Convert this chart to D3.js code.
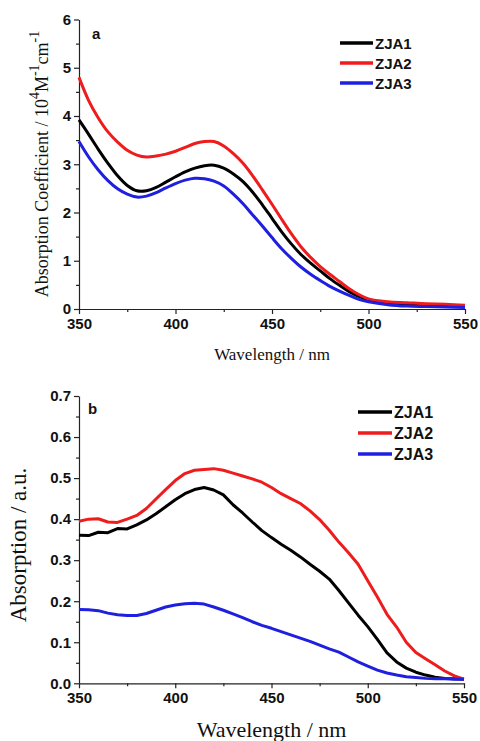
<!DOCTYPE html>
<html><head><meta charset="utf-8">
<script src="https://cdn.jsdelivr.net/npm/d3@7"></script>
<style>body{margin:0;background:#fff}svg{display:block}</style>
</head><body>
<svg id="chart" width="480" height="741"></svg>
<script>
// ---- Panel a data ----
const wavelengthsA = [350,355,360,365,370,375,380,385,390,395,400,405,410,415,420,425,430,435,440,445,450,455,460,465,470,475,480,485,490,495,500,510,520,530,540,550];
const zja1A = [3.92,3.62,3.31,3.02,2.76,2.56,2.45,2.45,2.52,2.63,2.74,2.84,2.92,2.97,2.98,2.92,2.80,2.64,2.42,2.16,1.88,1.60,1.35,1.13,0.95,0.79,0.63,0.49,0.36,0.26,0.19,0.12,0.09,0.08,0.07,0.06];
const zja2A = [4.80,4.32,3.96,3.67,3.46,3.29,3.19,3.15,3.17,3.21,3.27,3.35,3.43,3.47,3.47,3.38,3.22,3.02,2.76,2.47,2.17,1.86,1.56,1.29,1.07,0.88,0.72,0.57,0.42,0.30,0.21,0.15,0.13,0.11,0.10,0.08];
const zja3A = [3.47,3.15,2.88,2.66,2.49,2.38,2.32,2.34,2.41,2.51,2.60,2.67,2.71,2.70,2.65,2.55,2.38,2.18,1.95,1.72,1.48,1.25,1.05,0.87,0.72,0.59,0.47,0.37,0.28,0.20,0.15,0.09,0.06,0.05,0.04,0.03];
// ---- Panel b data ----
const wavelengthsB = [350,355,360,365,370,375,380,385,390,395,400,405,410,415,420,425,430,435,440,445,450,455,460,465,470,475,480,485,490,495,500,505,510,515,520,525,530,535,540,545,550];
const zja1B = [0.361,0.360,0.368,0.367,0.377,0.376,0.386,0.398,0.413,0.430,0.447,0.462,0.472,0.477,0.471,0.459,0.435,0.415,0.393,0.372,0.355,0.339,0.324,0.308,0.290,0.273,0.254,0.226,0.196,0.166,0.138,0.107,0.074,0.052,0.037,0.027,0.020,0.015,0.012,0.011,0.010];
const zja2B = [0.395,0.400,0.401,0.393,0.392,0.400,0.409,0.426,0.449,0.472,0.494,0.511,0.519,0.521,0.523,0.519,0.512,0.505,0.498,0.490,0.477,0.462,0.450,0.438,0.420,0.399,0.373,0.344,0.318,0.290,0.250,0.210,0.168,0.137,0.100,0.075,0.060,0.045,0.030,0.018,0.010];
const zja3B = [0.180,0.179,0.177,0.171,0.167,0.165,0.165,0.170,0.178,0.186,0.191,0.194,0.195,0.193,0.186,0.178,0.169,0.160,0.150,0.141,0.134,0.126,0.118,0.110,0.102,0.093,0.084,0.076,0.064,0.052,0.042,0.032,0.025,0.020,0.016,0.014,0.012,0.011,0.011,0.010,0.010];

const seriesNames = ["ZJA1","ZJA2","ZJA3"];
const seriesColors = ["#000000","#ee1c1c","#1f1fe0"];
const xTicks = [350,400,450,500,550];
const yTicksA = [0,1,2,3,4,5,6];
const yTicksB = [0,0.1,0.2,0.3,0.4,0.5,0.6,0.7];

const svg = d3.select("#chart");
const tickFont = "'Liberation Sans', Arial, sans-serif";
const titleFont = "'Liberation Serif', 'Times New Roman', serif";

function panel(opts){
  const g = svg.append("g");
  const x = d3.scaleLinear().domain([350,550]).range([opts.left, opts.right]);
  const y = d3.scaleLinear().domain(opts.yDomain).range([opts.bottom, opts.top]);

  const minorX = d3.range(375, 550, 50);
  g.append("g").attr("transform",`translate(0,${opts.bottom})`)
    .call(d3.axisBottom(x).tickValues(minorX).tickSize(3).tickFormat("").tickSizeOuter(0))
    .call(s=>s.select(".domain").remove());
  g.append("g").attr("transform",`translate(${opts.left},0)`)
    .call(d3.axisLeft(y).tickValues(opts.minorY).tickSize(3).tickFormat("").tickSizeOuter(0))
    .call(s=>s.select(".domain").remove());

  const xa = g.append("g").attr("transform",`translate(0,${opts.bottom})`)
    .call(d3.axisBottom(x).tickValues(xTicks).tickSize(5).tickPadding(4).tickSizeOuter(0));
  xa.selectAll("text").attr("font-family",tickFont).attr("font-weight","bold").attr("font-size",opts.tickSize).attr("fill","#111");
  const ya = g.append("g").attr("transform",`translate(${opts.left},0)`)
    .call(d3.axisLeft(y).tickValues(opts.yTicks).tickSize(5).tickPadding(3).tickFormat(opts.yFmt).tickSizeOuter(0));
  ya.selectAll("text").attr("font-family",tickFont).attr("font-weight","bold").attr("font-size",opts.tickSize).attr("fill","#111");
  g.selectAll(".domain, .tick line").attr("stroke","#222").attr("stroke-width",1.2);

  const line = d3.line().x(d=>x(d[0])).y(d=>y(d[1])).curve(opts.curve);
  opts.series.forEach((vals,i)=>{
    g.append("path").datum(opts.xs.map((w,j)=>[w,vals[j]]))
      .attr("d",line).attr("fill","none").attr("stroke",seriesColors[i])
      .attr("stroke-width",opts.lw).attr("stroke-linejoin","round");
  });

  seriesNames.forEach((n,i)=>{
    const ly = opts.legY + i*opts.legDy;
    g.append("line").attr("x1",opts.legX).attr("x2",opts.legX+opts.legLen)
      .attr("y1",ly).attr("y2",ly).attr("stroke",seriesColors[i]).attr("stroke-width",3.5);
    g.append("text").attr("x",opts.legX+opts.legLen+2).attr("y",ly+5.5)
      .attr("font-family",tickFont).attr("font-weight","bold").attr("font-size",opts.legSize)
      .attr("fill","#111").text(n);
  });
  g.append("text").attr("x",opts.letterX).attr("y",opts.letterY)
    .attr("font-family",tickFont).attr("font-weight","bold").attr("font-size",15).attr("fill","#111").text(opts.letter);
  g.append("text").attr("x",(opts.left+opts.right)/2).attr("y",opts.xTitleY).attr("text-anchor","middle")
    .attr("font-family",titleFont).attr("font-size",opts.xTitleSize).attr("fill","#111").text("Wavelength / nm");
  return {g,x,y};
}

// Panel a
panel({left:79,right:465,top:19.5,bottom:309,yDomain:[0,6],yTicks:yTicksA,
  minorY:d3.range(0.5,6,1),yFmt:d3.format("d"),tickSize:15,curve:d3.curveCatmullRom.alpha(0.5),lw:3,
  xs:wavelengthsA,series:[zja1A,zja2A,zja3A],legX:340,legY:43,legDy:20,legLen:33,legSize:15,
  letter:"a",letterX:92,letterY:39,xTitleY:360,xTitleSize:17});
const ta = svg.append("text").attr("transform","translate(48,164) rotate(-90)").attr("text-anchor","middle")
  .attr("font-family",titleFont).attr("font-size",18).attr("fill","#111");
ta.append("tspan").text("Absorption Coefficient / 10");
ta.append("tspan").attr("dy",-9).attr("font-size",14).text("4");
ta.append("tspan").attr("dy",9).text("M");
ta.append("tspan").attr("dy",-9).attr("font-size",14).text("-1");
ta.append("tspan").attr("dy",9).text("cm");
ta.append("tspan").attr("dy",-9).attr("font-size",14).text("-1");

// Panel b
panel({left:79,right:464,top:396,bottom:683.3,yDomain:[0,0.7],yTicks:yTicksB,
  minorY:d3.range(0.05,0.7,0.1),yFmt:d3.format(".1f"),tickSize:15,curve:d3.curveLinear,lw:3,
  xs:wavelengthsB,series:[zja1B,zja2B,zja3B],legX:358,legY:412,legDy:21,legLen:34,legSize:16,
  letter:"b",letterX:88,letterY:414,xTitleY:737,xTitleSize:22});
svg.append("text").attr("transform","translate(26,545) rotate(-90)").attr("text-anchor","middle")
  .attr("font-family",titleFont).attr("font-size",23).attr("fill","#111").text("Absorption / a.u.");
</script>
</body></html>
